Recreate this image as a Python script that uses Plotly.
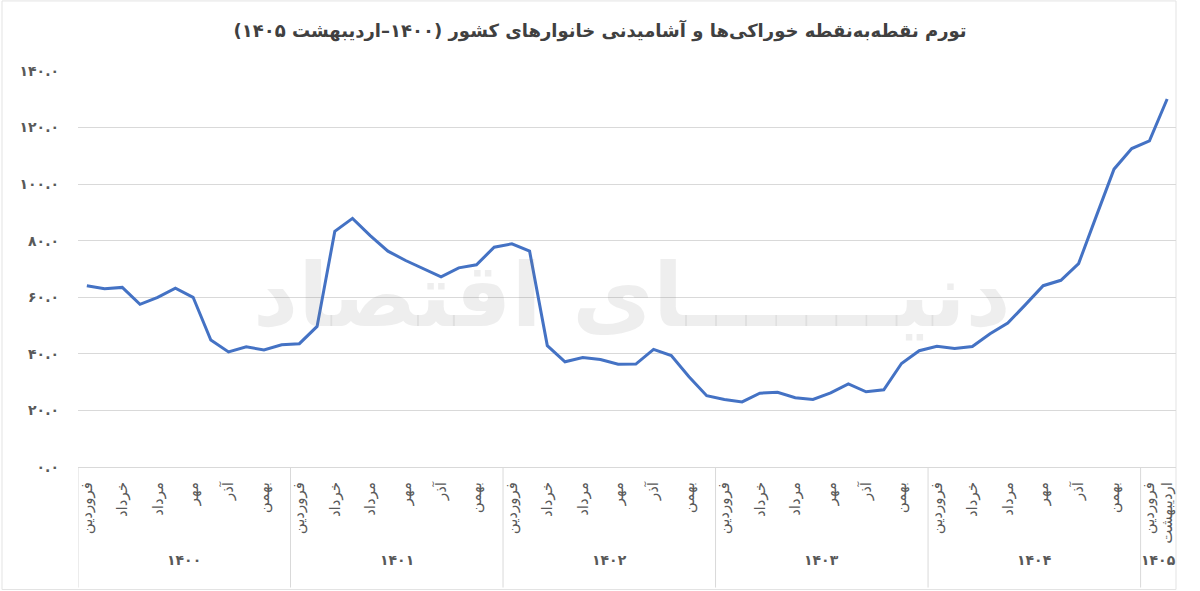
import plotly.graph_objects as go

# ---- data ----
months = ["فروردین", "اردیبهشت", "خرداد", "تیر", "مرداد", "شهریور",
          "مهر", "آبان", "آذر", "دی", "بهمن", "اسفند"]
years = ["۱۴۰۰", "۱۴۰۱", "۱۴۰۲", "۱۴۰۳", "۱۴۰۴", "۱۴۰۵"]
months_per_year = [12, 12, 12, 12, 12, 2]

inflation = [
    64.1, 63.0, 63.5, 57.5, 60.0, 63.2, 60.0, 44.9, 40.7, 42.5, 41.4, 43.2,   # 1400
    43.6, 49.7, 83.3, 87.9, 81.8, 76.3, 73.0, 70.0, 67.2, 70.4, 71.5, 77.7,   # 1401
    78.9, 76.3, 42.9, 37.2, 38.7, 38.0, 36.3, 36.4, 41.6, 39.4, 31.9, 25.2,   # 1402
    23.9, 23.0, 26.1, 26.4, 24.5, 23.9, 26.2, 29.4, 26.6, 27.3, 36.6, 41.1,   # 1403
    42.7, 41.9, 42.6, 47.1, 50.9, 57.4, 64.1, 66.0, 71.9, 88.7, 105.3, 112.6, # 1404
    115.3, 130.1,                                                              # 1405
]

y_tickvals = [0, 20, 40, 60, 80, 100, 120, 140]
y_ticktext = ["۰.۰", "۲۰.۰", "۴۰.۰", "۶۰.۰", "۸۰.۰", "۱۰۰.۰", "۱۲۰.۰", "۱۴۰.۰"]

title_text = "تورم نقطه‌به‌نقطه خوراکی‌ها و آشامیدنی خانوارهای کشور (۱۴۰۰–اردیبهشت ۱۴۰۵)"
watermark = "دنیـــــــای اقتصاد"

# ---- build categories ----
labels = []
for y, n in zip(years, months_per_year):
    for m in range(n):
        labels.append(f"{months[m]} {y}")
x_idx = list(range(len(inflation)))

# tick labels: every other month, plus the final month
tickvals, ticktext = [], []
pos = 0
for y, n in zip(years, months_per_year):
    for m in range(n):
        if m % 2 == 0 or (pos == len(inflation) - 1):
            tickvals.append(pos)
            ticktext.append(months[m])
        pos += 1

FONT = "DejaVu Sans"
GRAY = "#595959"

fig = go.Figure()
fig.add_trace(go.Scatter(
    x=x_idx, y=inflation, mode="lines",
    line=dict(color="#4472C4", width=3),
    text=labels, hovertemplate="%{text}: %{y:.1f}<extra></extra>",
    showlegend=False,
))

# plot area geometry (pixels) for paper conversions
top_px, bottom_px = 71, 466.6
h = bottom_px - top_px

def py(px):
    return (bottom_px - px) / h

shapes = []
annotations = []
start = 0
for y, n in zip(years, months_per_year):
    shapes.append(dict(type="line", xref="x", yref="paper",
                       x0=start - 0.5, x1=start - 0.5, y0=0, y1=py(587),
                       line=dict(color="#d9d9d9", width=1)))
    annotations.append(dict(x=start + (n - 1) / 2, y=py(569), xref="x", yref="paper",
                            text=f"<b>{y}</b>", showarrow=False,
                            font=dict(family=FONT, size=14, color=GRAY)))
    start += n

# outer frame
shapes.append(dict(type="rect", xref="paper", yref="paper",
                   x0=(2 - 78) / 1098, x1=(1176 - 78) / 1098,
                   y0=py(589), y1=py(1),
                   line=dict(color="#e3e3e3", width=1), layer="below"))

# watermark
annotations.append(dict(x=(632 - 78) / 1098, y=py(295), xref="paper", yref="paper",
                        text=f"<b>{watermark}</b>", showarrow=False,
                        font=dict(family=FONT, size=88, color="rgba(120,120,120,0.13)")))

fig.update_layout(
    width=1200, height=591,
    margin=dict(l=78, r=24, t=71, b=591 - 466.6),
    paper_bgcolor="white", plot_bgcolor="white",
    title=dict(text=f"<b>{title_text}</b>", x=0.5, xanchor="center",
               y=1 - 31 / 591, yanchor="middle",
               font=dict(family=FONT, size=18, color="#404040")),
    shapes=shapes, annotations=annotations,
    xaxis=dict(range=[-0.5, len(inflation) - 0.5], tickmode="array",
               tickvals=tickvals, ticktext=ticktext, tickangle=-90,
               showgrid=False, zeroline=False, showline=True,
               linecolor="#d9d9d9", linewidth=1, ticks="",
               ticklabelstandoff=8,
               tickfont=dict(family=FONT, size=15, color=GRAY)),
    yaxis=dict(range=[0, 140], tickmode="array", tickvals=y_tickvals,
               ticktext=[f"<b>{t}</b>" for t in y_ticktext],
               showgrid=True, gridcolor="#d9d9d9", gridwidth=1,
               zeroline=False, showline=False, ticks="",
               ticklabelstandoff=18,
               tickfont=dict(family=FONT, size=14, color=GRAY)),
    font=dict(family=FONT),
)

fig.write_html("out.html")
